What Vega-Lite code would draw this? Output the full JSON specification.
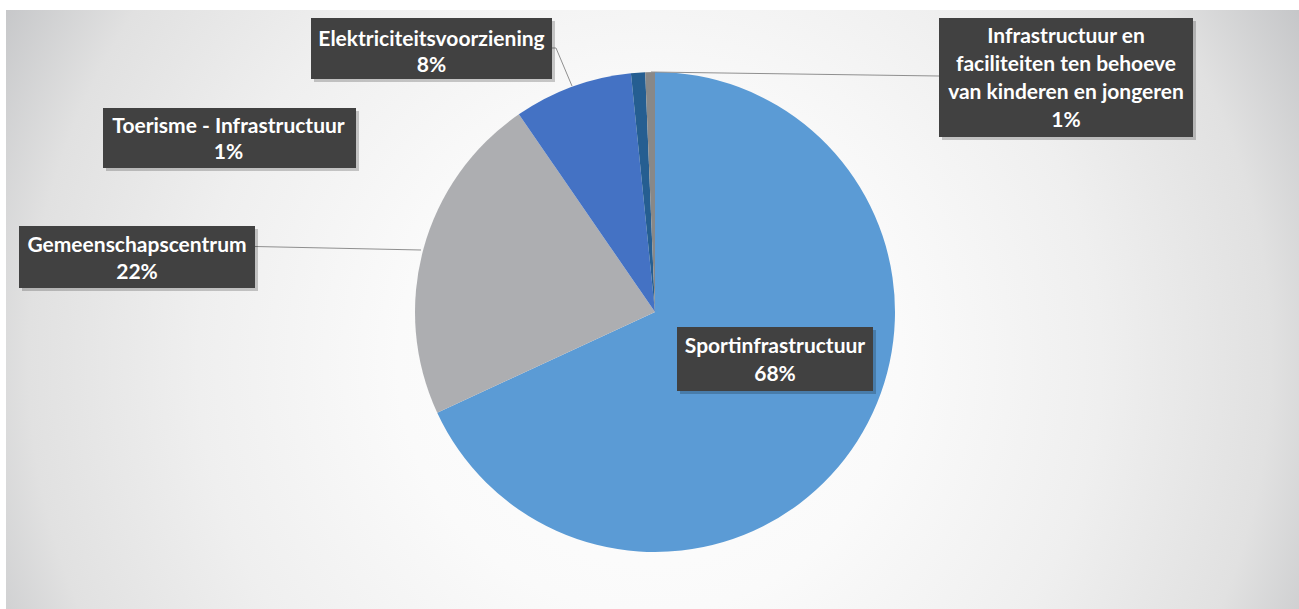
{
  "$schema": "https://vega.github.io/schema/vega-lite/v6.json",
  "width": 1299,
  "height": 609,
  "autosize": {"type": "fit", "contains": "padding"},
  "padding": {"left": 6, "top": 10, "right": -5, "bottom": -5},
  "background": "#ffffff",
  "config": {"view": {"stroke": null}, "text": {"font": "Lato", "fontWeight": "bold", "fontSize": 21, "color": "#ffffff", "align": "center", "baseline": "alphabetic", "lineHeight": 28}},
  "data": {"values": [
    {"categorie": "Sportinfrastructuur", "etiket": "Sportinfrastructuur", "aandeel": 0.681},
    {"categorie": "Gemeenschapscentrum", "etiket": "Gemeenschapscentrum", "aandeel": 0.223},
    {"categorie": "Elektriciteitsvoorziening", "etiket": "Elektriciteitsvoorziening", "aandeel": 0.08},
    {"categorie": "Toerisme - Infrastructuur", "etiket": "Toerisme - Infrastructuur", "aandeel": 0.0095},
    {"categorie": "Infrastructuur en faciliteiten ten behoeve van kinderen en jongeren", "etiket": "Infrastructuur en\nfaciliteiten ten behoeve\nvan kinderen en jongeren", "aandeel": 0.0065}
  ]},
  "layer": [
    {
      "data": {"values": [{}]},
      "mark": {"type": "rect", "color": {"gradient": "radial", "x1": 0.496, "y1": 0.537, "r1": 0, "x2": 0.496, "y2": 0.537, "r2": 0.57,
        "stops": [{"offset": 0, "color": "#ffffff"}, {"offset": 0.34, "color": "#fafafa"}, {"offset": 0.61, "color": "#efefef"}, {"offset": 0.84, "color": "#e1e1e1"}, {"offset": 1, "color": "#c5c6c8"}]}},
      "encoding": {}
    },
    {
      "mark": {"type": "arc", "outerRadius": 240},
      "encoding": {
        "theta": {"field": "aandeel", "type": "quantitative"},
        "order": {"field": "aandeel", "type": "quantitative", "sort": "descending"},
        "color": {"field": "categorie", "type": "nominal", "legend": null,
          "scale": {"domain": ["Sportinfrastructuur", "Gemeenschapscentrum", "Elektriciteitsvoorziening", "Toerisme - Infrastructuur", "Infrastructuur en faciliteiten ten behoeve van kinderen en jongeren"],
                    "range": ["#5b9bd5", "#adaeb1", "#4472c4", "#255e91", "#888888"]}}
      }
    },
    {
      "transform": [{"filter": "datum.categorie === 'Sportinfrastructuur'"}],
      "layer": [
        {"mark": {"type": "point", "shape": "M-98,-32H98V32H-98Z", "size": 4, "filled": true, "color": "#000000", "opacity": 0.2, "xOffset": 123, "yOffset": 50}, "encoding": {}},
        {"mark": {"type": "point", "shape": "M-98,-32H98V32H-98Z", "size": 4, "filled": true, "color": "#414141", "opacity": 1, "xOffset": 120, "yOffset": 47}, "encoding": {}},
        {"mark": {"type": "text", "dx": 120, "dy": 41}, "encoding": {"text": {"field": "etiket"}}},
        {"mark": {"type": "text", "dx": 120, "dy": 68.7}, "encoding": {"text": {"field": "aandeel", "format": ".0%"}}}
      ]
    },
    {
      "transform": [{"filter": "datum.categorie === 'Gemeenschapscentrum'"}],
      "layer": [
        {"mark": {"type": "point", "shape": "M-400,-65.5L-234,-62", "size": 4, "filled": false, "color": "#8f8f8f", "strokeWidth": 1, "opacity": 1}, "encoding": {}},
        {"mark": {"type": "point", "shape": "M-118,-31H118V31H-118Z", "size": 4, "filled": true, "color": "#000000", "opacity": 0.2, "xOffset": -515, "yOffset": -52}, "encoding": {}},
        {"mark": {"type": "point", "shape": "M-118,-31H118V31H-118Z", "size": 4, "filled": true, "color": "#414141", "opacity": 1, "xOffset": -518, "yOffset": -55}, "encoding": {}},
        {"mark": {"type": "text", "dx": -518, "dy": -59.7}, "encoding": {"text": {"field": "etiket"}}},
        {"mark": {"type": "text", "dx": -518, "dy": -32.7}, "encoding": {"text": {"field": "aandeel", "format": ".0%"}}}
      ]
    },
    {
      "transform": [{"filter": "datum.categorie === 'Elektriciteitsvoorziening'"}],
      "layer": [
        {"mark": {"type": "point", "shape": "M-103,-264L-99,-264L-83,-226", "size": 4, "filled": false, "color": "#8f8f8f", "strokeWidth": 1, "opacity": 1}, "encoding": {}},
        {"mark": {"type": "point", "shape": "M-120.5,-30.5H120.5V30.5H-120.5Z", "size": 4, "filled": true, "color": "#000000", "opacity": 0.2, "xOffset": -220.5, "yOffset": -260.5}, "encoding": {}},
        {"mark": {"type": "point", "shape": "M-120.5,-30.5H120.5V30.5H-120.5Z", "size": 4, "filled": true, "color": "#414141", "opacity": 1, "xOffset": -223.5, "yOffset": -263.5}, "encoding": {}},
        {"mark": {"type": "text", "dx": -223.5, "dy": -266.3}, "encoding": {"text": {"field": "etiket"}}},
        {"mark": {"type": "text", "dx": -223.5, "dy": -240.3}, "encoding": {"text": {"field": "aandeel", "format": ".0%"}}}
      ]
    },
    {
      "transform": [{"filter": "datum.categorie === 'Toerisme - Infrastructuur'"}],
      "layer": [
        {"mark": {"type": "point", "shape": "M-126.5,-30H126.5V30H-126.5Z", "size": 4, "filled": true, "color": "#000000", "opacity": 0.2, "xOffset": -422.5, "yOffset": -171}, "encoding": {}},
        {"mark": {"type": "point", "shape": "M-126.5,-30H126.5V30H-126.5Z", "size": 4, "filled": true, "color": "#414141", "opacity": 1, "xOffset": -425.5, "yOffset": -174}, "encoding": {}},
        {"mark": {"type": "text", "dx": -426.5, "dy": -178.7}, "encoding": {"text": {"field": "etiket"}}},
        {"mark": {"type": "text", "dx": -426.5, "dy": -152.7}, "encoding": {"text": {"field": "aandeel", "format": ".0%"}}}
      ]
    },
    {
      "transform": [{"filter": "datum.categorie === 'Infrastructuur en faciliteiten ten behoeve van kinderen en jongeren'"}],
      "layer": [
        {"mark": {"type": "point", "shape": "M284,-236L-4,-240", "size": 4, "filled": false, "color": "#8f8f8f", "strokeWidth": 1, "opacity": 1}, "encoding": {}},
        {"mark": {"type": "point", "shape": "M-127,-59.5H127V59.5H-127Z", "size": 4, "filled": true, "color": "#000000", "opacity": 0.2, "xOffset": 414, "yOffset": -231.5}, "encoding": {}},
        {"mark": {"type": "point", "shape": "M-127,-59.5H127V59.5H-127Z", "size": 4, "filled": true, "color": "#414141", "opacity": 1, "xOffset": 411, "yOffset": -234.5}, "encoding": {}},
        {"mark": {"type": "text", "dx": 411, "dy": -268.7, "lineBreak": "\n"}, "encoding": {"text": {"field": "etiket"}}},
        {"mark": {"type": "text", "dx": 411, "dy": -184.7}, "encoding": {"text": {"field": "aandeel", "format": ".0%"}}}
      ]
    }
  ]
}
